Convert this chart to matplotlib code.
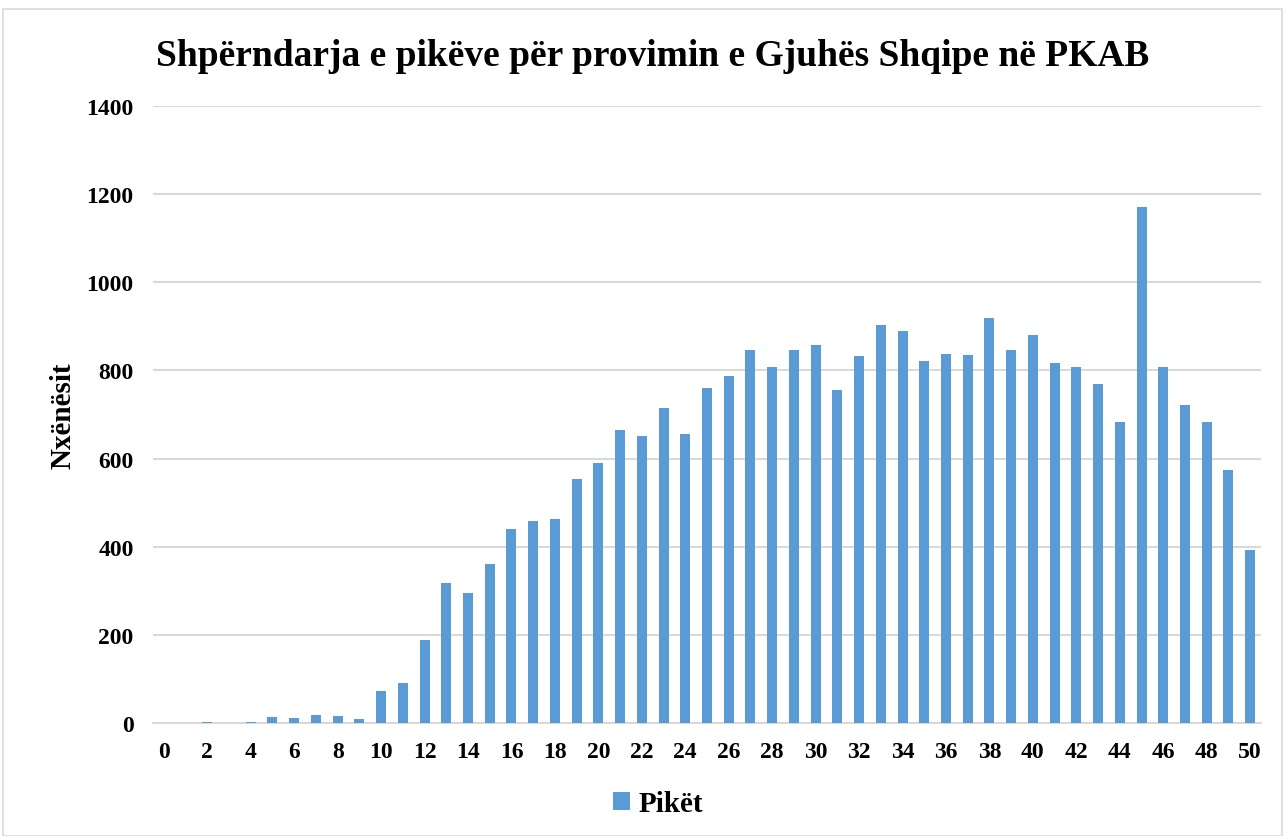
import matplotlib
matplotlib.use("Agg")
import matplotlib.pyplot as plt
import numpy as np
from matplotlib.patches import Rectangle

# pikët 0..50
points = list(range(0, 51))
students = [0, 0, 3, 0, 3, 14, 11, 18, 15, 8,
            72, 91, 189, 318, 295, 361, 440, 459, 463, 554,
            590, 665, 652, 715, 656, 760, 788, 847, 808, 847,
            858, 756, 833, 903, 890, 821, 837, 835, 919, 847,
            880, 817, 808, 769, 683, 1171, 808, 722, 683, 574,
            393]
tick_labels = [str(p) if p % 2 == 0 else "" for p in points]

bar_color = "#5b9bd5"
grid_color = "#d9d9d9"
font = "Liberation Serif"

plt.rcParams['font.family'] = [font, 'DejaVu Serif']
plt.rcParams['font.weight'] = 'bold'

fig = plt.figure(figsize=(12.85, 8.37), dpi=100)
ax = fig.add_axes([153 / 1285, 1 - 724 / 837, (1261 - 153) / 1285, (724 - 107) / 837])

x = np.arange(len(points))
ax.bar(x, students, width=0.46, color=bar_color, label="Pikët", zorder=3)

ax.set_xlim(-0.5, len(points) - 0.5)
ax.set_ylim(0, 1400)
ax.set_yticks(np.arange(0, 1401, 200))
ax.set_xticks(x)
ax.set_xticklabels(tick_labels)
ax.tick_params(axis='both', length=0, labelsize=17)
ax.tick_params(axis='x', pad=13)
ax.tick_params(axis='y', pad=14)
for lab in ax.get_xticklabels() + ax.get_yticklabels():
    lab.set_fontweight('bold')

ax.yaxis.grid(True, color=grid_color, linewidth=1.5, zorder=0)
for s in ['top', 'right', 'left']:
    ax.spines[s].set_visible(False)
ax.spines['bottom'].set_color(grid_color)
ax.spines['bottom'].set_linewidth(1.5)

ax.set_ylabel("Nxënësit", fontsize=21, fontweight='bold', labelpad=7)

fig.text(0.508, 1 - 57 / 837, "Shpërndarja e pikëve për provimin e Gjuhës Shqipe në PKAB",
         ha='center', va='center', fontsize=27, fontweight='bold')

fig.legend(handles=ax.patches[:1], labels=["Pikët"], loc='center',
           bbox_to_anchor=(658 / 1285, 1 - 805 / 837), frameon=False,
           prop={'size': 21, 'weight': 'bold'}, handlelength=0.6, handleheight=0.6,
           handletextpad=0.3)

fig.patches.append(Rectangle((3 / 1285, 0), 1 - 6 / 1285, 1 - 10 / 837,
                             transform=fig.transFigure, fill=False,
                             edgecolor=grid_color, linewidth=1.2))

fig.savefig("out.png", dpi=100)
